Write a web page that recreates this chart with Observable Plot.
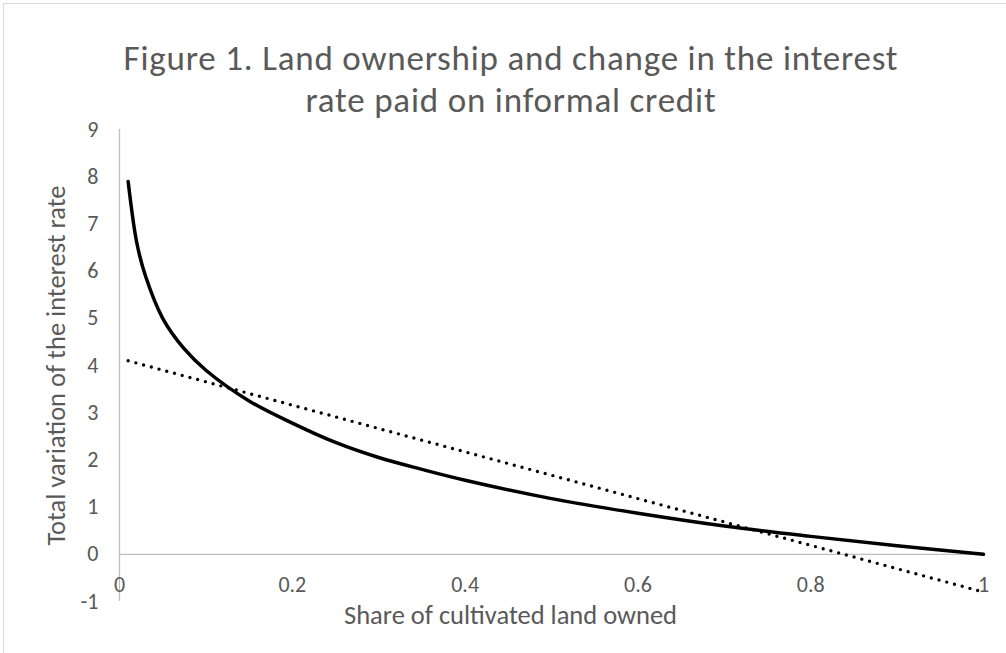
<!DOCTYPE html>
<html>
<head>
<meta charset="utf-8">
<script src="https://cdn.jsdelivr.net/npm/d3@7"></script>
<script src="https://cdn.jsdelivr.net/npm/@observablehq/plot@0.6"></script>
<style>
  html, body { margin: 0; padding: 0; background: #fff; }
  #frame { position: relative; width: 1006px; height: 653px; overflow: hidden; }
  #border { position: absolute; left: 3px; top: 3px; width: 1020px; height: 670px; border: 1.5px solid #d9d9d9; box-sizing: border-box; }
  #title { position: absolute; left: 0; top: 0; width: 1006px; height: 120px; box-sizing: border-box; padding-top: 37px; padding-left: 16px; text-align: center;
           font-family: Calibri, Carlito, Lato, "Open Sans", sans-serif; font-size: 35px; letter-spacing: 0.8px; line-height: 42px; color: #595959; }
  #chart { position: absolute; left: 0; top: 120px; }
</style>
</head>
<body>
<div id="frame">
  <div id="border"></div>
  <div id="title">Figure 1. Land ownership and change in the interest<br>rate paid on informal credit</div>
  <div id="chart"></div>
</div>
<script>
// Data
const shareOwned    = [0.01, 0.02, 0.03, 0.05, 0.075, 0.1, 0.15, 0.2, 0.25, 0.3, 0.35, 0.4, 0.5, 0.6, 0.7, 0.8, 0.9, 1.0];
const rateVariation = [7.9, 6.6, 5.9, 5.0, 4.35, 3.9, 3.25, 2.78, 2.37, 2.05, 1.8, 1.57, 1.18, 0.87, 0.6, 0.38, 0.18, 0.0];
const trendShare = [0.01, 1.0];
const trendRate  = [4.1, -0.8];
const xTicks = [0, 0.2, 0.4, 0.6, 0.8, 1];
const yTicks = [-1, 0, 1, 2, 3, 4, 5, 6, 7, 8, 9];
const xTitle = "Share of cultivated land owned";
const yTitle = "Total variation of the interest rate";

const curveData = shareOwned.map((x, i) => ({x, y: rateVariation[i]}));
const trendData = trendShare.map((x, i) => ({x, y: trendRate[i]}));

const font = 'Calibri, Carlito, Lato, "Open Sans", sans-serif';
const textColor = "#595959";
const axisColor = "#bfbfbf";

const chart = Plot.plot({
  width: 1006,
  height: 533,
  marginLeft: 119,
  marginRight: 23,
  marginTop: 9,
  marginBottom: 52,
  x: {domain: [0, 1], axis: null},
  y: {domain: [-1, 9], axis: null},
  style: {fontFamily: font, color: textColor, background: "transparent", overflow: "visible"},
  marks: [
    Plot.ruleX([0], {y1: -1, y2: 9, stroke: axisColor, strokeWidth: 1.3}),
    Plot.ruleY([0], {x1: 0, x2: 1, stroke: axisColor, strokeWidth: 1.3}),
    Plot.axisY({ticks: yTicks, tickSize: 0, tickPadding: 21, fontSize: 22, label: null, tickFormat: d => String(d)}),
    Plot.text(xTicks, {x: d => d, y: 0, dy: 31, text: d => String(d), fontSize: 22, fill: textColor}),
    Plot.text([yTitle], {frameAnchor: "left", rotate: -90, textAnchor: "middle", dx: -63, fontSize: 26.5, fill: textColor}),
    Plot.text([xTitle], {frameAnchor: "bottom", textAnchor: "middle", dx: -41, dy: 22, fontSize: 26.5, fill: textColor}),
    Plot.line(trendData, {x: "x", y: "y", stroke: "black", strokeWidth: 3.4, strokeDasharray: "0,8", strokeLinecap: "round"}),
    Plot.line(curveData, {x: "x", y: "y", stroke: "black", strokeWidth: 3.5, curve: "catmull-rom"})
  ]
});
document.getElementById("chart").appendChild(chart);
</script>
</body>
</html>
